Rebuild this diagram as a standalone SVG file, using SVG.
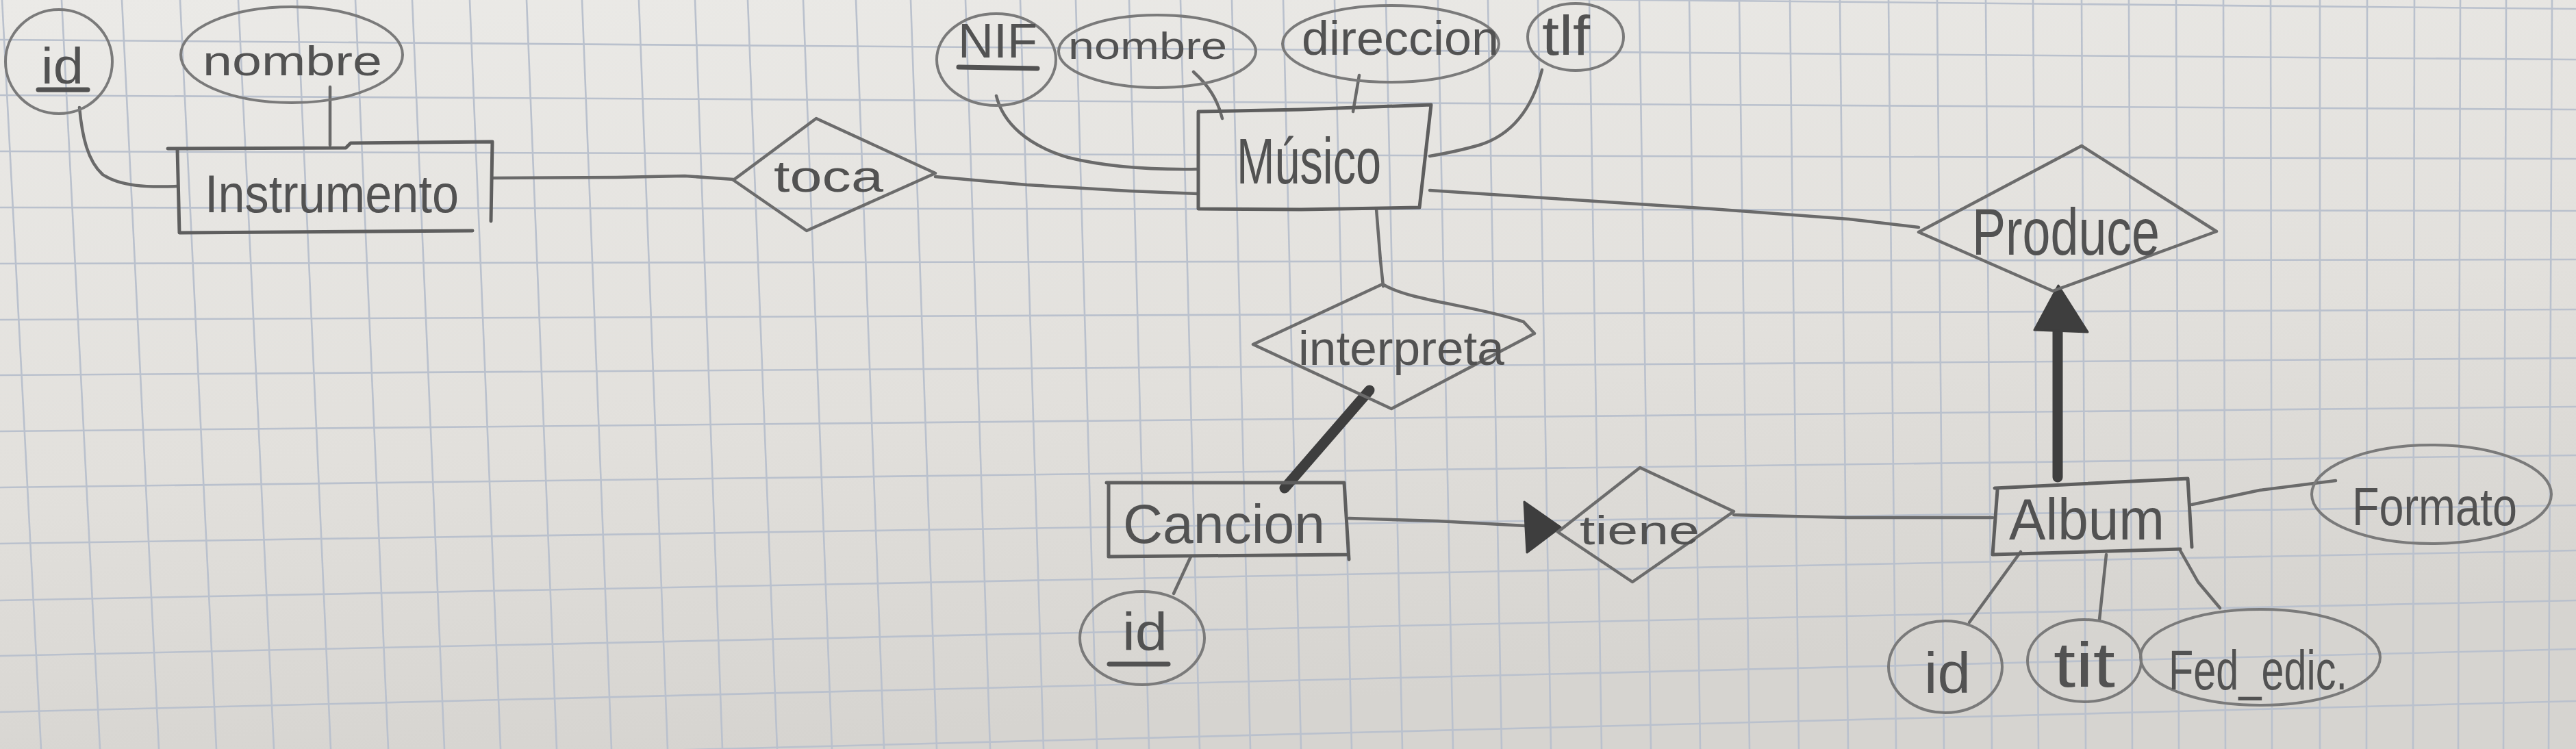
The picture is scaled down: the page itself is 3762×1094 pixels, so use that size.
<svg xmlns="http://www.w3.org/2000/svg" width="3762" height="1094" viewBox="0 0 3762 1094">
<defs>
<style>
.ent{fill:none;stroke:#5e5e5e;stroke-width:5;stroke-linecap:round;stroke-linejoin:round}
.rel{fill:none;stroke:#6c6c6c;stroke-width:4.5;stroke-linecap:round;stroke-linejoin:round}
.att{fill:none;stroke:#7a7a7a;stroke-width:4}
.con{fill:none;stroke:#6a6a6a;stroke-width:4.5;stroke-linecap:round;stroke-linejoin:round}
.thick{fill:none;stroke:#3e3e3e;stroke-width:15;stroke-linecap:round}
.head{fill:#3e3e3e;stroke:#3e3e3e;stroke-width:3;stroke-linejoin:round}
.lbl{font-family:"Liberation Sans",Arial,sans-serif;fill:#525252}
.ul{stroke:#525252;stroke-width:7;stroke-linecap:round}
#grid line{stroke:#bac1cd;stroke-width:2.6}
</style>
<linearGradient id="paper" x1="0" y1="0" x2="0.3" y2="1">
<stop offset="0" stop-color="#ebeae7"/>
<stop offset="0.6" stop-color="#e2e0dc"/>
<stop offset="1" stop-color="#d6d4d0"/>
</linearGradient>
</defs>
<rect width="3762" height="1094" fill="url(#paper)"/>
<g id="grid">
<line x1="3" y1="0" x2="60" y2="1094"/><line x1="90" y1="0" x2="146" y2="1094"/><line x1="178" y1="0" x2="232" y2="1094"/><line x1="263" y1="0" x2="316" y2="1094"/><line x1="348" y1="0" x2="400" y2="1094"/><line x1="434" y1="0" x2="483" y2="1094"/><line x1="519" y1="0" x2="567" y2="1094"/><line x1="602" y1="0" x2="649" y2="1094"/><line x1="686" y1="0" x2="731" y2="1094"/><line x1="769" y1="0" x2="813" y2="1094"/><line x1="850" y1="0" x2="893" y2="1094"/><line x1="933" y1="0" x2="975" y2="1094"/><line x1="1015" y1="0" x2="1055" y2="1094"/><line x1="1092" y1="0" x2="1135" y2="1094"/><line x1="1173" y1="0" x2="1215" y2="1094"/><line x1="1250" y1="0" x2="1291" y2="1094"/><line x1="1330" y1="0" x2="1368" y2="1094"/><line x1="1410" y1="0" x2="1446" y2="1094"/><line x1="1490" y1="0" x2="1524" y2="1094"/><line x1="1571" y1="0" x2="1602" y2="1094"/><line x1="1649" y1="0" x2="1678" y2="1094"/><line x1="1724" y1="0" x2="1752" y2="1094"/><line x1="1799" y1="0" x2="1826" y2="1094"/><line x1="1874" y1="0" x2="1900" y2="1094"/><line x1="1949" y1="0" x2="1974" y2="1094"/><line x1="2024" y1="0" x2="2048" y2="1094"/><line x1="2100" y1="0" x2="2122" y2="1094"/><line x1="2173" y1="0" x2="2193" y2="1094"/><line x1="2246" y1="0" x2="2265" y2="1094"/><line x1="2321" y1="0" x2="2339" y2="1094"/><line x1="2394" y1="0" x2="2411" y2="1094"/><line x1="2467" y1="0" x2="2483" y2="1094"/><line x1="2540" y1="0" x2="2555" y2="1094"/><line x1="2614" y1="0" x2="2627" y2="1094"/><line x1="2687" y1="0" x2="2699" y2="1094"/><line x1="2758" y1="0" x2="2769" y2="1094"/><line x1="2829" y1="0" x2="2839" y2="1094"/><line x1="2900" y1="0" x2="2909" y2="1094"/><line x1="2969" y1="0" x2="2977" y2="1094"/><line x1="3040" y1="0" x2="3046" y2="1094"/><line x1="3109" y1="0" x2="3114" y2="1094"/><line x1="3178" y1="0" x2="3182" y2="1094"/><line x1="3247" y1="0" x2="3250" y2="1094"/><line x1="3316" y1="0" x2="3318" y2="1094"/><line x1="3388" y1="0" x2="3388" y2="1094"/><line x1="3457" y1="0" x2="3456" y2="1094"/><line x1="3526" y1="0" x2="3524" y2="1094"/><line x1="3593" y1="0" x2="3590" y2="1094"/><line x1="3660" y1="0" x2="3656" y2="1094"/><line x1="3727" y1="0" x2="3722" y2="1094"/>
<line x1="0" y1="-23" x2="3762" y2="13"/><line x1="0" y1="58" x2="3762" y2="87"/><line x1="0" y1="139" x2="3762" y2="160"/><line x1="0" y1="221" x2="3762" y2="232"/><line x1="0" y1="303" x2="3762" y2="308"/><line x1="0" y1="385" x2="3762" y2="379"/><line x1="0" y1="467" x2="3762" y2="452"/><line x1="0" y1="548" x2="3762" y2="523"/><line x1="0" y1="630" x2="3762" y2="594"/><line x1="0" y1="712" x2="3762" y2="665"/><line x1="0" y1="794" x2="3762" y2="738"/><line x1="0" y1="877" x2="3762" y2="804"/><line x1="0" y1="958" x2="3762" y2="877"/><line x1="0" y1="1040" x2="3762" y2="948"/><line x1="0" y1="1121" x2="3762" y2="1024"/>
</g>
<g id="connectors">
<path class="con" d="M116,157 C120,200 128,235 150,255 C175,272 215,274 259,272"/>
<path class="con" d="M482,127 L482,212"/>
<path class="con" d="M719,260 L900,259 L1000,257 L1071,262"/>
<path class="con" d="M1366,258 L1500,270 L1650,279 L1750,283"/>
<path class="con" d="M1455,140 C1465,180 1500,212 1560,230 C1620,245 1690,248 1750,247"/>
<path class="con" d="M1743,105 C1765,125 1778,145 1785,173"/>
<path class="con" d="M1985,110 L1976,163"/>
<path class="con" d="M2252,102 C2240,150 2215,195 2160,212 C2125,222 2100,226 2088,228"/>
<path class="con" d="M2010,305 L2016,380 L2020,418"/>
<path class="con" d="M2088,278 L2300,292 L2500,305 L2700,320 L2802,332"/>
<path class="thick" d="M2000,570 L1876,713"/>
<path class="con" d="M1970,757 L2100,761 L2228,768"/>
<polygon class="head" points="2226,733 2230,807 2279,770"/>
<path class="con" d="M2532,752 L2700,756 L2910,756"/>
<path class="thick" d="M3005,697 L3005,478"/>
<polygon class="head" points="2971,482 3049,485 3006,417"/>
<path class="con" d="M3201,737 L3300,716 L3411,702"/>
<path class="con" d="M1739,813 L1714,867"/>
<path class="con" d="M2951,806 L2876,909"/>
<path class="con" d="M3076,810 L3066,905"/>
<path class="con" d="M3184,804 L3210,850 L3242,888"/>
</g>
<g id="Instrumento">
<path class="ent" d="M245,217 L505,216 L512,209 L719,207 L717,323 M259,217 L262,340 L690,337"/>
<text class="lbl" x="299" y="310" font-size="78" textLength="371" lengthAdjust="spacingAndGlyphs">Instrumento</text>
</g>
<g id="attr-id-instrumento">
<ellipse class="att" cx="86" cy="90" rx="78" ry="76"/>
<text class="lbl" x="60" y="122" font-size="74" textLength="62" lengthAdjust="spacingAndGlyphs">id</text>
<line class="ul" x1="56" y1="131" x2="128" y2="131"/>
</g>
<g id="attr-nombre-instrumento">
<ellipse class="att" cx="426" cy="80" rx="162" ry="70"/>
<text class="lbl" x="296" y="110" font-size="62" textLength="262" lengthAdjust="spacingAndGlyphs">nombre</text>
</g>
<g id="toca">
<path class="rel" d="M1071,263 L1192,173 L1366,253 L1178,337 Z"/>
<text class="lbl" x="1130" y="280" font-size="64" textLength="160" lengthAdjust="spacingAndGlyphs">toca</text>
</g>
<g id="Musico">
<path class="ent" d="M1750,163 L1900,160 L2090,153 L2073,303 L1900,306 L1750,305 Z"/>
<text class="lbl" x="1806" y="268" font-size="94" textLength="211" lengthAdjust="spacingAndGlyphs">Músico</text>
</g>
<g id="attr-nif">
<ellipse class="att" cx="1455" cy="87" rx="87" ry="67"/>
<text class="lbl" x="1399" y="84" font-size="70" textLength="116" lengthAdjust="spacingAndGlyphs">NIF</text>
<line class="ul" x1="1400" y1="98" x2="1515" y2="100"/>
</g>
<g id="attr-nombre-musico">
<ellipse class="att" cx="1690" cy="75" rx="144" ry="53"/>
<text class="lbl" x="1560" y="86" font-size="56" textLength="232" lengthAdjust="spacingAndGlyphs">nombre</text>
</g>
<g id="attr-direccion">
<ellipse class="att" cx="2031" cy="64" rx="158" ry="56"/>
<text class="lbl" x="1901" y="80" font-size="70" textLength="288" lengthAdjust="spacingAndGlyphs">direccion</text>
</g>
<g id="attr-tlf">
<ellipse class="att" cx="2301" cy="54" rx="70" ry="49"/>
<text class="lbl" x="2252" y="80" font-size="82" textLength="70" lengthAdjust="spacingAndGlyphs">tlf</text>
</g>
<g id="interpreta">
<path class="rel" d="M1830,503 L2019,415 C2060,440 2150,445 2225,470 L2241,487 L2032,597 Z"/>
<text class="lbl" x="1896" y="533" font-size="70" textLength="301" lengthAdjust="spacingAndGlyphs">interpreta</text>
</g>
<g id="Cancion">
<path class="ent" d="M1616,705 L1963,705 L1970,817 M1619,705 L1619,813 L1967,810"/>
<text class="lbl" x="1640" y="793" font-size="80" textLength="295" lengthAdjust="spacingAndGlyphs">Cancion</text>
</g>
<g id="attr-id-cancion">
<ellipse class="att" cx="1668" cy="932" rx="91" ry="68"/>
<text class="lbl" x="1639" y="950" font-size="78" textLength="66" lengthAdjust="spacingAndGlyphs">id</text>
<line class="ul" x1="1620" y1="970" x2="1706" y2="970"/>
</g>
<g id="tiene">
<path class="rel" d="M2275,777 L2395,683 L2532,747 L2384,850 Z"/>
<text class="lbl" x="2307" y="795" font-size="60" textLength="175" lengthAdjust="spacingAndGlyphs">tiene</text>
</g>
<g id="Album">
<path class="ent" d="M2913,713 L3195,699 L3201,799 M2917,716 L2910,810 L3184,802"/>
<text class="lbl" x="2934" y="788" font-size="86" textLength="227" lengthAdjust="spacingAndGlyphs">Album</text>
</g>
<g id="Produce">
<path class="rel" d="M2802,339 L3040,213 L3237,338 L2998,425 Z"/>
<text class="lbl" x="2880" y="372" font-size="96" textLength="274" lengthAdjust="spacingAndGlyphs">Produce</text>
</g>
<g id="attr-formato">
<ellipse class="att" cx="3551" cy="722" rx="175" ry="72"/>
<text class="lbl" x="3435" y="767" font-size="78" textLength="241" lengthAdjust="spacingAndGlyphs">Formato</text>
</g>
<g id="attr-id-album">
<ellipse class="att" cx="2841" cy="974" rx="83" ry="67"/>
<text class="lbl" x="2810" y="1012" font-size="84" textLength="68" lengthAdjust="spacingAndGlyphs">id</text>
</g>
<g id="attr-tit">
<ellipse class="att" cx="3044" cy="965" rx="83" ry="60"/>
<text class="lbl" x="2999" y="1003" font-size="92" textLength="90" lengthAdjust="spacingAndGlyphs">tit</text>
</g>
<g id="attr-fed-edic">
<ellipse class="att" cx="3301" cy="960" rx="175" ry="70"/>
<text class="lbl" x="3167" y="1007" font-size="82" textLength="261" lengthAdjust="spacingAndGlyphs">Fed_edic.</text>
</g>
</svg>
